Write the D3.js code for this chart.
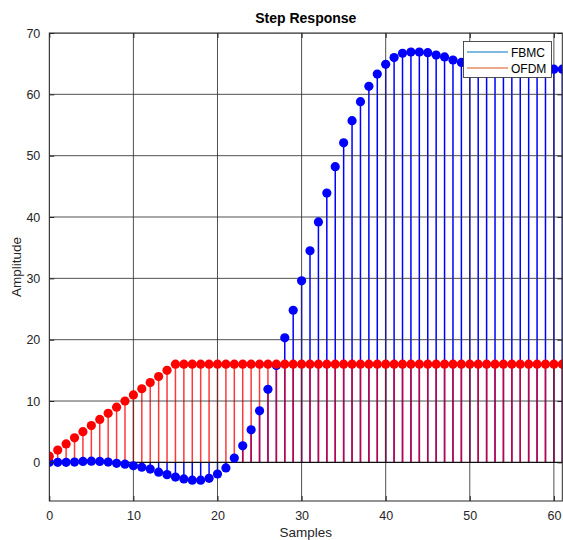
<!DOCTYPE html>
<html>
<head>
<meta charset="utf-8">
<script src="https://cdn.jsdelivr.net/npm/d3@7"></script>
<style>
  html, body { margin: 0; padding: 0; background: #ffffff; }
  svg { display: block; font-family: "Liberation Sans", Arial, Helvetica, sans-serif; }
</style>
</head>
<body>
<svg id="chart" width="563" height="540"></svg>
<script>
// Sample index n = 0..61
const samples = d3.range(0, 62);

// FBMC step response
const fbmc = [
  0.0, 0.0, 0.0, 0.05, 0.15, 0.2, 0.15, 0.05, -0.15, -0.3,
  -0.55, -0.8, -1.1, -1.6, -2.0, -2.4, -2.7, -2.9, -2.9, -2.6,
  -1.9, -0.9, 0.7, 2.7, 5.3, 8.4, 11.9, 15.8, 20.3, 24.8,
  29.6, 34.5, 39.2, 43.9, 48.2, 52.1, 55.7, 58.8, 61.3, 63.3,
  64.9, 66.0, 66.7, 66.9, 66.9, 66.8, 66.4, 66.1, 65.6, 65.2,
  64.9, 64.7, 64.5, 64.4, 64.3, 64.2, 64.1, 64.1, 64.0, 64.0,
  64.1, 64.1
];

// OFDM step response
const ofdm = [
  1, 2, 3, 4, 5, 6, 7, 8, 9, 10,
  11, 12, 13, 14, 15, 16, 16, 16, 16, 16,
  16, 16, 16, 16, 16, 16, 16, 16, 16, 16,
  16, 16, 16, 16, 16, 16, 16, 16, 16, 16,
  16, 16, 16, 16, 16, 16, 16, 16, 16, 16,
  16, 16, 16, 16, 16, 16, 16, 16, 16, 16,
  16, 16
];

const xTicks = [0, 10, 20, 30, 40, 50, 60];
const yTicks = [0, 10, 20, 30, 40, 50, 60, 70];
const seriesNames = ["FBMC", "OFDM"];

const plot = { left: 49.3, right: 562.3, top: 33, bottom: 501 };
const axisColor = "#262626";

const svg = d3.select("#chart");

const x = d3.scaleLinear().domain([0, 61]).range([plot.left, plot.right]);
const y = d3.scaleLinear().domain([-6.3, 70]).range([plot.bottom, plot.top]);

// Clip region for the axes box
svg.append("defs").append("clipPath").attr("id", "plot-clip")
  .append("rect")
  .attr("x", plot.left).attr("y", plot.top)
  .attr("width", plot.right - plot.left).attr("height", plot.bottom - plot.top);

svg.append("rect")
  .attr("x", plot.left).attr("y", plot.top)
  .attr("width", plot.right - plot.left).attr("height", plot.bottom - plot.top)
  .attr("fill", "#ffffff");

const g = svg.append("g").attr("clip-path", "url(#plot-clip)");

// Stems
function stems(values, color, opacity) {
  g.append("g").selectAll("line")
    .data(samples)
    .join("line")
    .attr("x1", d => x(d)).attr("x2", d => x(d))
    .attr("y1", y(0)).attr("y2", d => y(values[d]))
    .attr("stroke", color)
    .attr("stroke-width", 1.5)
    .attr("stroke-opacity", opacity);
}
stems(fbmc, "#0000ff", 1);
stems(ofdm, "#ff0000", 0.78);

// Grid lines
const grid = g.append("g").attr("stroke", "#333333").attr("stroke-width", 1).attr("stroke-opacity", 0.85);
grid.selectAll(".gx").data(xTicks).join("line")
  .attr("x1", d => x(d)).attr("x2", d => x(d))
  .attr("y1", plot.top).attr("y2", plot.bottom);
grid.selectAll(".gy").data(yTicks).join("line")
  .attr("x1", plot.left).attr("x2", plot.right)
  .attr("y1", d => y(d)).attr("y2", d => y(d));

// Stem baseline
g.append("line")
  .attr("x1", plot.left).attr("x2", plot.right)
  .attr("y1", y(0)).attr("y2", y(0))
  .attr("stroke", "#000000").attr("stroke-width", 1);

// Markers
function markers(values, color) {
  g.append("g").selectAll("circle")
    .data(samples)
    .join("circle")
    .attr("cx", d => x(d))
    .attr("cy", d => y(values[d]))
    .attr("r", 4.6)
    .attr("fill", color);
}
markers(fbmc, "#0000ff");
markers(ofdm, "#ff0000");

// Axes (box with inward ticks)
const xAxisB = d3.axisBottom(x).tickValues(xTicks).tickSize(-5).tickPadding(10).tickFormat(d3.format("d"));
const xAxisT = d3.axisTop(x).tickValues(xTicks).tickSize(-5).tickFormat("");
const yAxisL = d3.axisLeft(y).tickValues(yTicks).tickSize(-5).tickPadding(9).tickFormat(d3.format("d"));
const yAxisR = d3.axisRight(y).tickValues(yTicks).tickSize(-5).tickFormat("");

function styleAxis(sel) {
  sel.select(".domain").remove();
  sel.selectAll(".tick line").attr("stroke", axisColor);
  sel.selectAll(".tick text").attr("fill", axisColor)
    .style("font-size", "12.5px")
    .style("font-family", "'Liberation Sans', Arial, Helvetica, sans-serif");
}

svg.append("g").attr("transform", `translate(0,${plot.bottom})`).call(xAxisB).call(styleAxis);
svg.append("g").attr("transform", `translate(0,${plot.top})`).call(xAxisT).call(styleAxis);
svg.append("g").attr("transform", `translate(${plot.left},0)`).call(yAxisL).call(styleAxis);
svg.append("g").attr("transform", `translate(${plot.right},0)`).call(yAxisR).call(styleAxis);

svg.append("rect")
  .attr("x", plot.left).attr("y", plot.top)
  .attr("width", plot.right - plot.left).attr("height", plot.bottom - plot.top)
  .attr("fill", "none").attr("stroke", axisColor).attr("stroke-width", 1);

// Title and axis labels
svg.append("text")
  .attr("x", (plot.left + plot.right) / 2).attr("y", 23)
  .attr("text-anchor", "middle")
  .style("font-size", "14px").style("font-weight", "bold")
  .attr("fill", "#000000")
  .text("Step Response");

svg.append("text")
  .attr("x", (plot.left + plot.right) / 2).attr("y", 536.5)
  .attr("text-anchor", "middle")
  .style("font-size", "13.5px")
  .attr("fill", axisColor)
  .text("Samples");

svg.append("text")
  .attr("transform", `translate(21,${(plot.top + plot.bottom) / 2}) rotate(-90)`)
  .attr("text-anchor", "middle")
  .style("font-size", "13.5px")
  .attr("fill", axisColor)
  .text("Amplitude");

// Legend
const legendColors = ["#0072bd", "#d95319"];
const lg = svg.append("g");
lg.append("rect")
  .attr("x", 463.5).attr("y", 41.5).attr("width", 88).attr("height", 36)
  .attr("fill", "#ffffff").attr("stroke", axisColor).attr("stroke-width", 0.8);
seriesNames.forEach((name, i) => {
  const ly = 52 + i * 16;
  lg.append("line")
    .attr("x1", 467).attr("x2", 508).attr("y1", ly).attr("y2", ly)
    .attr("stroke", legendColors[i]).attr("stroke-width", 1);
  lg.append("text")
    .attr("x", 511).attr("y", ly + 4.5)
    .style("font-size", "12px")
    .attr("fill", "#000000")
    .text(name);
});
</script>
</body>
</html>
